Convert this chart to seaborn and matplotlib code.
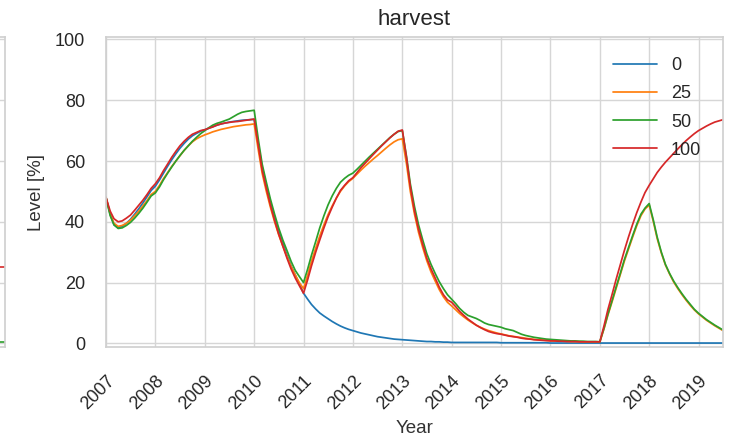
import numpy as np
import pandas as pd
import matplotlib
matplotlib.use("Agg")
import matplotlib.pyplot as plt
import matplotlib.dates as mdates
import seaborn as sns

# ---------------- data ----------------
dates = pd.date_range("2007-01-01", "2019-07-01", freq="MS")
series_labels = ["0", "25", "50", "100"]

level_0 = [
    48, 42.5, 39, 38, 38.5, 39.5, 40.8, 42.5, 44.3, 46.2, 48.3, 50.3,
    51.7, 53.8, 56, 58.3, 60.4, 62.4, 64.2, 65.8, 67.2, 68.3, 69.1, 69.8,
    70.3, 70.8, 71.3, 71.8, 72.2, 72.5, 72.8, 73, 73.2, 73.4, 73.5, 73.6,
    73.7, 65.5, 58, 52, 46.5, 41.5, 37, 33, 29, 25.5, 22.5, 19.5,
    16.5, 14.5, 12.8, 11.3, 10, 9, 8.1, 7.2, 6.4, 5.7, 5.1, 4.6,
    4.2, 3.8, 3.4, 3.1, 2.8, 2.5, 2.2, 2, 1.8, 1.6, 1.4, 1.3,
    1.2, 1.1, 1, 0.9, 0.8, 0.7, 0.6, 0.6, 0.5, 0.5, 0.4, 0.4,
    0.3, 0.3, 0.3, 0.3, 0.3, 0.3, 0.3, 0.3, 0.3, 0.3, 0.3, 0.3,
    0.2, 0.2, 0.2, 0.2, 0.2, 0.2, 0.2, 0.2, 0.2, 0.2, 0.2, 0.2,
    0.1, 0.1, 0.1, 0.1, 0.1, 0.1, 0.1, 0.1, 0.1, 0.1, 0.1, 0.1,
    0.1, 0.1, 0.1, 0.1, 0.1, 0.1, 0.1, 0.1, 0.1, 0.1, 0.1, 0.1,
    0.1, 0.1, 0.1, 0.1, 0.1, 0.1, 0.1, 0.1, 0.1, 0.1, 0.1, 0.1,
    0.1, 0.1, 0.1, 0.1, 0.1, 0.1, 0.1,
]

level_25 = [
    48, 42.5, 39.5, 38.5, 38.8, 39.5, 40.5, 42, 43.5, 45.2, 47, 49,
    50, 52, 54.2, 56.2, 58.2, 60, 61.8, 63.5, 65, 66.3, 67.3, 68,
    68.6, 69.1, 69.6, 70, 70.4, 70.7, 71, 71.3, 71.5, 71.7, 71.9, 72,
    72.2, 63.5, 56, 50, 44.8, 40, 35.8, 32, 28.5, 25.3, 22.5, 20,
    18, 22.5, 27, 31.3, 35.3, 39, 42.3, 45.2, 47.8, 50, 51.8, 53.2,
    54.3, 55.7, 57, 58.3, 59.5, 60.7, 61.8, 63, 64.2, 65.3, 66.3, 67,
    67.3, 59, 50, 42.5, 36.5, 31.5, 27.2, 23.5, 20.5, 17.7, 15.3, 13.5,
    12.3, 11, 9.8, 8.7, 7.7, 6.8, 6, 5.3, 4.7, 4.2, 3.8, 3.4,
    3.1, 2.8, 2.5, 2.3, 2.1, 1.9, 1.7, 1.5, 1.3, 1.2, 1.1, 1,
    0.9, 0.8, 0.8, 0.7, 0.7, 0.6, 0.6, 0.6, 0.5, 0.5, 0.5, 0.5,
    0.5, 4.8, 9.2, 13.6, 18, 22.5, 27, 31, 35, 38.7, 42, 44.2,
    45.5, 40, 34.5, 29.7, 25.8, 22.8, 20.2, 18, 16, 14.2, 12.5, 11,
    9.7, 8.6, 7.6, 6.7, 5.8, 5, 4.2,
]

level_50 = [
    48, 42, 39, 37.8, 38, 38.8, 39.8, 41.2, 42.8, 44.5, 46.5, 48.5,
    49.5, 51.5, 53.8, 56, 58, 60, 61.8, 63.5, 65, 66.5, 67.8, 69,
    70, 71, 71.8, 72.4, 72.8, 73.3, 73.8, 74.6, 75.4, 76, 76.3, 76.5,
    76.7, 67, 59, 53, 47.5, 42.5, 38, 34, 30.5, 27, 24, 22,
    20, 24.5, 29, 33.5, 38, 42, 45.5, 48.5, 51, 53, 54.3, 55.3,
    56, 57.3, 58.6, 60, 61.3, 62.6, 63.9, 65.2, 66.5, 67.7, 68.8, 69.7,
    70, 61.5, 52.5, 45, 39, 34, 29.5, 26, 23, 20.3, 18, 16,
    14.5, 13, 11.5, 10.2, 9.2, 8.7, 8.2, 7.5, 6.7, 6.2, 5.9, 5.6,
    5.3, 4.8, 4.5, 4.2, 3.6, 3, 2.6, 2.3, 2, 1.8, 1.6, 1.4,
    1.3, 1.2, 1.1, 1, 0.9, 0.8, 0.8, 0.7, 0.7, 0.6, 0.6, 0.6,
    0.5, 5, 9.5, 14, 18.5, 23, 27.5, 31.5, 35.5, 39.2, 42.5, 44.5,
    46, 40.5, 35, 30, 26, 23, 20.5, 18.3, 16.3, 14.5, 12.8, 11.2,
    9.9, 8.8, 7.8, 6.9, 6, 5.2, 4.4,
]

level_100 = [
    48, 43.5, 41, 40, 40.3, 41.2, 42.2, 43.8, 45.5, 47.1, 49, 51,
    52.5, 54.5, 56.8, 59, 61.2, 63.2, 65, 66.5, 67.8, 68.8, 69.4, 70,
    70.3, 70.8, 71.2, 71.8, 72.2, 72.5, 72.7, 72.9, 73, 73.2, 73.4, 73.6,
    73.8, 65, 57, 51, 45.5, 40.5, 36, 32, 28, 24.5, 21.5, 19,
    16.5, 21, 25.5, 30, 34, 38, 41.6, 44.8, 47.8, 50.3, 52, 53.5,
    54.5, 56.2, 57.8, 59.3, 60.8, 62.2, 63.6, 65, 66.3, 67.6, 68.8, 69.8,
    70.2, 61, 51.5, 43.5, 37.5, 32.5, 28, 24.5, 21.5, 18.5, 16, 14.3,
    13.5, 12, 10.5, 9.2, 8, 7, 6, 5.2, 4.5, 3.9, 3.5, 3.2,
    3, 2.7, 2.4, 2.2, 2, 1.7, 1.5, 1.4, 1.2, 1.1, 1, 0.9,
    0.8, 0.8, 0.7, 0.7, 0.6, 0.6, 0.6, 0.5, 0.5, 0.5, 0.5, 0.5,
    0.5, 5.8, 11, 16, 21, 25.8, 30.5, 35, 39.2, 43, 46.5, 49.6,
    52, 54.2, 56.2, 58, 59.6, 61.1, 62.6, 64, 65.4, 66.7, 67.9, 69,
    70, 70.8, 71.5, 72.2, 72.8, 73.2, 73.6,
]

# neighbouring panel (only its right edge is visible in the crop)
neighbour_dates = dates[-2:]
neighbour_100 = [25, 25]
neighbour_50 = [0.3, 0.3]

title_text = "harvest"
x_label = "Year"
y_label = "Level [%]"

# ---------------- style ----------------
sns.set_theme(style="whitegrid")
plt.rcParams["font.family"] = ["Liberation Sans", "DejaVu Sans"]
plt.rcParams["grid.color"] = "#d6d6d6"
plt.rcParams["axes.edgecolor"] = "#d0d0d0"

colors = sns.color_palette("tab10", 4)

df = pd.DataFrame({
    "date": np.tile(dates, 4),
    "level": np.concatenate([level_0, level_25, level_50, level_100]),
    "series": np.repeat(series_labels, len(dates)),
})

W, H = 739, 436
fig = plt.figure(figsize=(W / 100, H / 100), dpi=100)

# main axes
ax = fig.add_axes([106 / W, 1 - 347 / H, (723 - 106) / W, (347 - 37) / H])
sns.lineplot(data=df, x="date", y="level", hue="series", hue_order=series_labels,
             palette=colors, linewidth=1.25, ax=ax)

ax.set_xlim(dates[0], dates[-1])
ax.set_ylim(-1.2, 100.8)
ax.set_yticks([0, 20, 40, 60, 80, 100])
ax.xaxis.set_major_locator(mdates.YearLocator())
ax.xaxis.set_major_formatter(mdates.DateFormatter("%Y"))
ax.tick_params(axis="both", labelsize=13, colors="#262626")
ax.tick_params(axis="y", pad=9)
ax.tick_params(axis="x", pad=12)
for lbl in ax.get_xticklabels():
    lbl.set_rotation(45)
    lbl.set_ha("right")
    lbl.set_rotation_mode("anchor")
ax.set_xlabel(x_label, fontsize=13.5, color="#333333", labelpad=5)
ax.set_ylabel(y_label, fontsize=13.5, color="#333333", labelpad=7)
ax.set_title(title_text, fontsize=16, color="#262626", pad=8.5)

leg = ax.legend(loc="upper right", frameon=False, fontsize=13,
                handlelength=2.4, labelspacing=0.62, borderaxespad=0.8,
                bbox_to_anchor=(1.0, 1.005))
for h in leg.get_lines():
    h.set_linewidth(1.25)

# neighbouring panel, cut off at the left border
ax2 = fig.add_axes([-0.5, 1 - 347 / H, 0.5 + 4.5 / W, (347 - 37) / H])
ax2.plot(neighbour_dates, neighbour_100, color=colors[3], linewidth=1.2)
ax2.plot(neighbour_dates, neighbour_50, color=colors[2], linewidth=1.2)
ax2.set_xlim(neighbour_dates[0], neighbour_dates[-1])
ax2.set_ylim(-1.2, 100.8)
ax2.set_yticks([0, 20, 40, 60, 80, 100])
ax2.set_xticks([])
ax2.tick_params(labelleft=False)

fig.savefig("out.png", dpi=100)
